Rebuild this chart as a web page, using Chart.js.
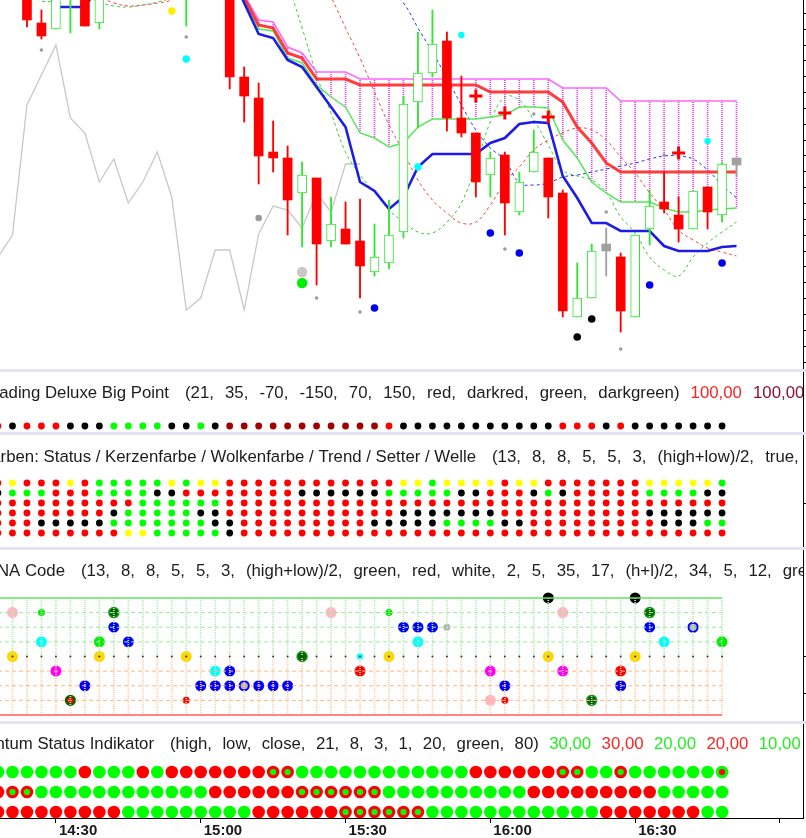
<!DOCTYPE html>
<html lang="de">
<head>
<meta charset="utf-8">
<title>Chart</title>
<script src="https://cdn.jsdelivr.net/npm/chart.js"></script>
<style>
  html, body { margin: 0; padding: 0; background: #fff; }
  #wrap { position: relative; width: 806px; height: 838px; overflow: hidden; background: #fff; }
  canvas { position: absolute; left: 0; }
  .band { position: absolute; left: 0; width: 806px; height: 3px; background: #e3e3f3; }
</style>
</head>
<body>
<div id="wrap">
  <canvas id="main" width="806" height="369" style="top:0"></canvas>
  <div class="band" style="top:369px"></div>
  <canvas id="bigpoint" width="806" height="60" style="top:372px"></canvas>
  <div class="band" style="top:432px"></div>
  <canvas id="farben" width="806" height="112" style="top:435px"></canvas>
  <div class="band" style="top:547px"></div>
  <canvas id="dna" width="806" height="171" style="top:550px"></canvas>
  <div class="band" style="top:721px"></div>
  <canvas id="momentum" width="806" height="114" style="top:724px"></canvas>
</div>
<script>
// 3-minute bars, bar 0 = 14:18, bar 51 = 16:51 (still forming)
const timeTicks = [4, 14, 24, 34, 44, 54];
const timeLabels = ['14:30', '15:00', '15:30', '16:00', '16:30', ''];

const open  = [428,400,376,345,339,371,378,345,380,400,385,410,395,373,383,400,378,291,270,216,210,175,190,127,139,127,96,105,136,266,295,327,250,235,193,213,156,196,210,175,51,70,124,111,51,139,166,153,139,181,153,210];
const high  = [438,425,383,358,383,388,383,378,405,405,415,418,400,388,405,408,388,301,285,247,222,206,190,171,166,169,144,168,272,336,358,336,292,235,216,216,196,238,210,178,105,124,140,115,133,178,196,171,177,181,206,210];
const low   = [398,392,341,329,339,335,342,339,376,378,380,388,372,342,375,372,279,246,184,196,133,121,83,121,124,70,92,99,130,240,291,237,231,171,171,133,153,196,150,51,51,70,92,36,51,123,155,126,139,139,146,192];
const close = [408,420,348,332,376,383,342,373,400,385,410,395,385,383,400,385,291,272,212,210,168,193,124,144,124,102,111,133,264,295,324,250,235,186,210,165,186,216,171,57,70,117,117,57,133,162,159,139,177,156,204,203];
const flatBars = [42, 51];

const baseLine  = [408,408,408,388,361,361,361,383,408,408,408,408,408,408,408,408,398,365,334,330,308,301,281,261,241,186,177,159,171,201,214,214,214,214,225,230,244,246,245,192,170,145,145,137,137,137,122,117,117,117,121,122];
const cloudTop  = [null,null,null,null,null,null,null,null,null,null,null,null,null,null,null,null,398,373,348,346,321,315,296,296,296,289,289,289,289,289,289,289,289,289,289,289,289,289,289,280,280,280,280,267,267,267,267,267,267,267,267,267];
const cloudMid  = [null,null,null,null,null,null,null,null,null,null,null,null,null,null,null,null,393,370,343,340,315,310,289,289,289,283,283,283,283,283,283,283,283,283,276,276,276,276,276,266,241,225,205,196,196,196,196,196,196,196,196,196];
const cloudLow  = [null,null,null,null,null,null,null,null,null,null,null,null,null,null,null,null,393,368,339,337,310,305,283,271,261,235,230,221,225,241,249,249,249,249,251,253,261,261,260,228,210,186,175,166,166,166,160,156,156,158,159,160];
const waveRed   = [428,418,408,398,390,383,377,371,365,362,363,365,369,393,418,438,453,463,463,458,443,423,398,371,340,310,276,243,216,188,168,155,145,146,163,186,201,218,228,235,240,238,228,211,195,175,158,138,128,120,116,112];
const waveGreen = [378,378,378,367,368,373,372,366,362,361,363,366,371,388,408,423,433,433,428,413,383,340,293,255,216,193,176,158,146,136,135,146,165,203,246,271,268,248,223,198,192,188,176,151,135,111,98,92,111,125,136,146];
const waveBlue  = [null,null,null,null,null,null,null,null,null,null,null,null,null,null,null,null,null,null,null,null,518,498,478,456,434,413,393,378,365,340,316,290,263,238,220,208,185,183,185,191,193,196,199,202,205,209,212,212,209,198,183,170];
const lagging   = [111,133,263,293,323,250,235,186,209,165,186,216,171,58,70,118,118,58,134,162,158,140,175,156,204,204];

const markBar   = [3,13,22,25,35,37,42,43,46,18,21,21,12,13,29,32,49,26,34,36,45,50,40,41,33,35,38,47];
const markLevel = [318,331,70,56,119,254,156,19,213,150,96,85,357,309,201,333,227,60,135,115,83,105,31,49,272,255,251,215];
const markKind  = ['gs','gs','gs','gs','gs','gs','gs','gs','gs','gm','gb','green','yellow','cyan','cyan','cyanS','cyanS','blue','blue','blue','blue','blue','black','black','cross','cross','cross','cross'];

// signal panels, one letter per bar 0..50
const bigPoint = 'rkrrrkkkgg ggkkgkdddd dddddddrkk kkkkkkkkkr rrkrkkkkkk k';
const farben = [
  'ryrrryrggg ggygyyrrrr rrrrrrrryy gyyyyryyrr rrrrryyyyy g',
  'kgggrrrggg gkkrrrrrrr rkkkkkkggg ggkkrrrkgk rrrrrggggk k',
  'rrrrrrrrrr ggggggrrrr rrrrrrrrrr rrrrrrrrrr rrrrrrrrrr r',
  'rrrrrrrrkg ggggkkrrrr rrrrrrrrkk kkkkkrrrrr rrrrrkkkkk k',
  'rrrkkkkkgg gggggkkrrr rrrrrrkkkk kggggkkrrr rrrrrrkkkg g',
  'rrrrrrrrry ygggggkrrr rrrrrrrrrr rrrrrrrrrr rrrrrrrrrr r'
];
const momentum = [
  'ggggggrggg rgrrrrrrrx xggggggggg gggrrrrrrx xggxgggggg y',
  'rxxggggggg gggggrrrrr rxxxxxxggg gggggggrrr rrrrrrgggg g',
  'rrrrrrrrrg ggggggggrr rrrrxxxxxx gggggggggg ggrrrrrrrg g'
];

const dnaBar   = [1,3,8,8,3,7,9,1,7,13,21,25,27,4,15,16,25,6,14,15,16,17,18,19,20,5,13,23,27,28,29,30,31,29,38,44,39,45,45,48,46,50,38,44,34,39,43,35,43,34,35,41];
const dnaLevel = [3,3,3,2,1,1,1,0,0,0,0,0,0,-1,-1,-1,-1,-2,-2,-2,-2,-2,-2,-2,-2,-3,-3,3,3,2,2,2,2,1,4,4,3,3,2,2,1,1,0,0,-1,-1,-1,-2,-2,-3,-3,-3];
const dnaMark  = ['pink','greenS','dkgreen','blue','cyan','green','blue','gold','gold','gold','dkgreen','cyanS','gold','magenta','cyan','blue','red','blue','blue','blue','blue','greyBlue','blue','blue','blue','redDk','redS','pink','greenS','blue','blue','blue','greyS','cyan','black','black','pink','dkgreen','blue','greyBlue','cyan','green','gold','gold','magenta','magenta','red','blue','blue','pink','redS','dkgreen'];
const dnaLines = [4, 3, 2, 1, -1, -2, -3, -4];

const RED = '#ff0000', CANDLE_GREEN = '#33e633', GREY = '#a0a0a0';
const X_MIN = 0.138, X_MAX = 55.59;
const FONT = '16.8px "Liberation Sans", Arial, sans-serif';

Chart.defaults.font.family = '"Liberation Sans", Arial, sans-serif';
Chart.defaults.elements.line.capBezierPoints = false;

const idx = open.map((_, i) => i);
const idx51 = idx.slice(0, 51);
const codes = s => s.replace(/ /g, '').split('');

function xAxis() {
  return { type: 'linear', min: X_MIN, max: X_MAX, offset: false, display: false, grid: { offset: false } };
}
function rightAxis(min, max, tickVals) {
  return {
    type: 'linear', position: 'right', min, max,
    afterBuildTicks: s => { s.ticks = tickVals.map(v => ({ value: v })); },
    ticks: { display: false },
    grid: { drawOnChartArea: false, drawTicks: true, tickLength: 3, tickColor: '#000', tickWidth: 1 },
    border: { display: true, color: '#000', width: 1 }
  };
}
function baseOptions(scales, title) {
  return {
    responsive: false, animation: false, devicePixelRatio: 1, events: [],
    layout: { padding: 0, autoPadding: false },
    plugins: { legend: { display: false }, tooltip: { enabled: false }, panelTitle: title || false },
    scales
  };
}

const titlePlugin = {
  id: 'panelTitle',
  afterDraw(chart, args, o) {
    if (!o || !o.title) return;
    const ctx = chart.ctx;
    ctx.save();
    ctx.beginPath(); ctx.rect(0, 0, 803, chart.height); ctx.clip();
    ctx.font = FONT; ctx.textBaseline = 'middle';
    ctx.fillStyle = '#1c1c1c';
    ctx.textAlign = 'right';
    ctx.fillText(o.title, o.x - 16, o.y);
    ctx.textAlign = 'left';
    let x = o.x;
    for (const t of o.params) { ctx.fillText(t, x, o.y); x += ctx.measureText(t).width + o.gap; }
    for (const [t, c] of (o.values || [])) { ctx.fillStyle = c; ctx.fillText(t, x, o.y); x += ctx.measureText(t).width + o.gap; }
    ctx.restore();
  }
};

function dotted(canvasId, color) {
  const c = document.createElement('canvas'); c.width = 1; c.height = 2;
  const g = c.getContext('2d'); g.fillStyle = color; g.fillRect(0, 0, 1, 1);
  return document.getElementById(canvasId).getContext('2d').createPattern(c, 'repeat');
}

// ---------- main price panel ----------
const kind = idx.map(i => flatBars.includes(i) ? 'flat' : close[i] > open[i] ? 'up' : 'down');
const bodyFill = kind.map(k => k === 'up' ? '#ffffff' : k === 'down' ? RED : GREY);
const bodyLine = kind.map(k => k === 'up' ? CANDLE_GREEN : k === 'down' ? RED : GREY);

const markStyle = {
  gs: { c: '#9a9a9a', r: 1.8 }, gm: { c: '#9a9a9a', r: 3.3 }, gb: { c: '#c8c8c8', r: 5.2 },
  green: { c: '#00ee00', r: 5.2 }, yellow: { c: '#ffee00', r: 3.7 }, cyan: { c: '#00ffff', r: 3.7 },
  cyanS: { c: '#00ffff', r: 3.2 }, blue: { c: '#0000ee', r: 3.8 }, black: { c: '#000000', r: 3.8 },
  cross: { c: '#ff0000', r: 6.5, shape: 'cross' }
};

const line = (vals, color, width, dash, tension, order) => ({
  type: 'line', data: idx.map(i => ({ x: i, y: vals[i] ?? null })),
  borderColor: color, borderWidth: width, borderDash: dash, tension,
  pointRadius: 0, fill: false, order
});

const priceTicks = [];
for (let v = 354.7; v > 0; v -= 15.85) priceTicks.push(v);

new Chart(document.getElementById('main'), {
  type: 'bar',
  plugins: [titlePlugin],
  data: { datasets: [
    { type: 'scatter', order: 0,
      data: markBar.map((b, i) => ({ x: b, y: markLevel[i] })),
      pointStyle: markKind.map(k => markStyle[k].shape || 'circle'),
      pointRadius: markKind.map(k => markStyle[k].r),
      pointBackgroundColor: markKind.map(k => markStyle[k].c),
      pointBorderColor: markKind.map(k => markStyle[k].c),
      pointBorderWidth: markKind.map(k => k === 'cross' ? 3 : 0) },
    { type: 'bar', order: 1, grouped: false, barThickness: 9, borderSkipped: false,
      data: idx.map(i => ({ x: i, y: [open[i], close[i]] })),
      backgroundColor: bodyFill, borderColor: bodyLine,
      borderWidth: kind.map(k => k === 'up' ? 1 : 0) },
    { type: 'bar', order: 2, grouped: false, barThickness: 1.2, borderWidth: 0,
      data: idx.map(i => ({ x: i, y: [low[i], high[i]] })),
      backgroundColor: bodyLine },
    line(baseLine, '#1c1ce6', 2.6, [], 0, 3),
    line(cloudMid, 'rgba(255,40,40,0.9)', 3, [], 0, 4),
    line(cloudLow, '#55e855', 1.5, [], 0, 5),
    line(cloudTop, '#ff66ff', 1.6, [], 0, 6),
    line(waveBlue, '#2030ff', 1, [3, 3], 0.4, 7),
    line(waveRed, '#ff4040', 1, [3, 3], 0.4, 8),
    line(waveGreen, '#3cc83c', 1, [3, 3], 0.4, 9),
    line(lagging, '#c8c8c8', 1.3, [], 0, 10),
    { type: 'bar', order: 11, grouped: false, barThickness: 1, borderWidth: 0,
      data: idx.filter(i => cloudTop[i] !== null).map(i => ({ x: i, y: [cloudLow[i], cloudTop[i]] })),
      backgroundColor: dotted('main', '#ff33ff') }
  ] },
  options: baseOptions({ x: xAxis(), y: rightAxis(-1, 368, priceTicks) })
});

// ---------- Trading Deluxe Big Point ----------
const bpColor = { r: '#ff0000', k: '#000000', g: '#00ff00', d: '#a00000' };
new Chart(document.getElementById('bigpoint'), {
  type: 'scatter',
  plugins: [titlePlugin],
  data: { datasets: [{
    data: idx51.map(i => ({ x: i, y: 0 })),
    pointRadius: 3.4, pointBorderWidth: 0,
    pointBackgroundColor: codes(bigPoint).map(c => bpColor[c])
  }] },
  options: baseOptions({ x: xAxis(), y: rightAxis(-0.6, 5.4, []) }, {
    title: 'Trading Deluxe Big Point', x: 185, y: 21, gap: 11.1,
    params: ['(21,', '35,', '-70,', '-150,', '70,', '150,', 'red,', 'darkred,', 'green,', 'darkgreen)'],
    values: [['100,00', '#ff2020'], ['100,00', '#8b1030']]
  })
});

// ---------- Farben panel ----------
const fbColor = { r: '#ff0000', k: '#000000', g: '#00ff00', y: '#ffff00' };
new Chart(document.getElementById('farben'), {
  type: 'scatter',
  plugins: [titlePlugin],
  data: { datasets: farben.map((row, r) => ({
    data: idx51.map(i => ({ x: i, y: 5 - r })),
    pointRadius: 3.4, pointBorderWidth: 0,
    pointBackgroundColor: codes(row).map(c => fbColor[c])
  })) },
  options: baseOptions({ x: xAxis(), y: rightAxis(-1.4, 9.8, [3]) }, {
    title: 'Farben: Status / Kerzenfarbe / Wolkenfarbe / Trend / Setter / Welle', x: 492, y: 22, gap: 11.1,
    params: ['(13,', '8,', '8,', '5,', '5,', '3,', '(high+low)/2,', 'true,']
  })
});

// ---------- DNA Code ----------
const dnaStyle = {
  pink: { bg: '#ffb6c1', r: 5.5 }, green: { bg: '#00ee00', r: 5.5 }, greenS: { bg: '#00ee00', r: 3.5 },
  dkgreen: { bg: '#006400', ring: '#1f9a1f', bw: 1.5, r: 5 }, blue: { bg: '#0000ff', r: 5.5 },
  cyan: { bg: '#00ffff', r: 5.5 }, cyanS: { bg: '#00ffff', r: 3.2 }, gold: { bg: '#ffd700', r: 5.5 },
  magenta: { bg: '#ff00ff', r: 5.5 }, red: { bg: '#ff0000', r: 5.5 }, redS: { bg: '#ff0000', r: 3.5 },
  greyBlue: { bg: '#b4b4b4', ring: '#0000ff', bw: 2, r: 4.6 }, greyS: { bg: '#b4b4b4', r: 3.5 },
  black: { bg: '#000000', r: 5.5 }, redDk: { bg: '#ff0000', ring: '#006400', bw: 2.5, r: 4.4 }
};
const dnaLineStyle = l => l === 4 ? ['#5ee65e', 1.5, []] : l === -4 ? ['#ff5c5c', 1.5, []]
  : l > 0 ? ['#9fe89f', 1, [4, 3]] : ['#ffb77f', 1, [4, 3]];

new Chart(document.getElementById('dna'), {
  type: 'scatter',
  plugins: [titlePlugin],
  data: { datasets: [
    { type: 'scatter', order: 0, data: idx51.map(i => ({ x: i, y: 0 })),
      pointRadius: 1, pointBorderWidth: 0, pointBackgroundColor: '#333' },
    ...dnaLines.map(l => {
      const [c, w, d] = dnaLineStyle(l);
      return { type: 'line', order: 1, data: idx51.map(i => ({ x: i, y: l })),
        borderColor: c, borderWidth: w, borderDash: d, pointRadius: 0, tension: 0 };
    }),
    { type: 'bar', order: 2, grouped: false, barThickness: 1, borderWidth: 0,
      data: idx51.map(i => ({ x: i, y: [0, 4] })), backgroundColor: dotted('dna', '#b4ecb4') },
    { type: 'bar', order: 2, grouped: false, barThickness: 1, borderWidth: 0,
      data: idx51.map(i => ({ x: i, y: [-4, 0] })), backgroundColor: dotted('dna', '#ffcfaa') },
    { type: 'scatter', order: 5, clip: false,
      data: dnaBar.map((b, i) => ({ x: b, y: dnaLevel[i] })),
      pointRadius: dnaMark.map(m => dnaStyle[m].r),
      pointBackgroundColor: dnaMark.map(m => dnaStyle[m].bg),
      pointBorderColor: dnaMark.map(m => dnaStyle[m].ring || dnaStyle[m].bg),
      pointBorderWidth: dnaMark.map(m => dnaStyle[m].bw || 0) }
  ] },
  options: baseOptions({ x: xAxis(), y: rightAxis(-4.41, 7.28, [0, -2.5]) }, {
    title: 'DNA Code', x: 81, y: 21, gap: 11.0,
    params: ['(13,', '8,', '8,', '5,', '5,', '3,', '(high+low)/2,', 'green,', 'red,', 'white,', '2,', '5,', '35,', '17,', '(h+l)/2,', '34,', '5,', '12,', 'green,']
  })
});

// ---------- Momentum Status Indikator ----------
const momStyle = {
  g: { bg: '#00ff00', bd: '#00ff00', bw: 0, r: 6.3 },
  r: { bg: '#ff0000', bd: '#ff0000', bw: 0, r: 6.3 },
  x: { bg: '#00ff00', bd: '#ff0000', bw: 3.2, r: 4.7 },
  y: { bg: '#ff0000', bd: '#00ff00', bw: 3.2, r: 4.7 }
};
new Chart(document.getElementById('momentum'), {
  type: 'scatter',
  plugins: [titlePlugin],
  data: { datasets: momentum.map((row, r) => {
    const c = codes(row);
    return {
      data: idx51.map(i => ({ x: i, y: 2 - r })),
      pointRadius: c.map(k => momStyle[k].r),
      pointBackgroundColor: c.map(k => momStyle[k].bg),
      pointBorderColor: c.map(k => momStyle[k].bd),
      pointBorderWidth: c.map(k => momStyle[k].bw)
    };
  }) },
  options: baseOptions({
    x: {
      type: 'linear', min: X_MIN, max: X_MAX, offset: false, position: 'bottom',
      afterBuildTicks: s => { s.ticks = timeTicks.map(v => ({ value: v })); },
      ticks: { autoSkip: false, maxRotation: 0, minRotation: 0, align: 'start', labelOffset: 3, padding: 0,
        color: '#1a1a1a', font: { size: 15, weight: 'bold', lineHeight: 1 },
        callback: (v, i) => timeLabels[i] },
      grid: { drawOnChartArea: false, drawTicks: true, tickLength: 5, tickColor: '#000', offset: false },
      border: { display: true, color: '#000', width: 1 }
    },
    y: rightAxis(-0.3, 4.4, [])
  }, {
    title: 'Momentum Status Indikator', x: 170, y: 20, gap: 10.4,
    params: ['(high,', 'low,', 'close,', '21,', '8,', '3,', '1,', '20,', 'green,', '80)'],
    values: [['30,00', '#22ee22'], ['30,00', '#ff2222'], ['20,00', '#22ee22'], ['20,00', '#ff2222'], ['10,00', '#22ee22']]
  })
});
</script>
</body>
</html>
